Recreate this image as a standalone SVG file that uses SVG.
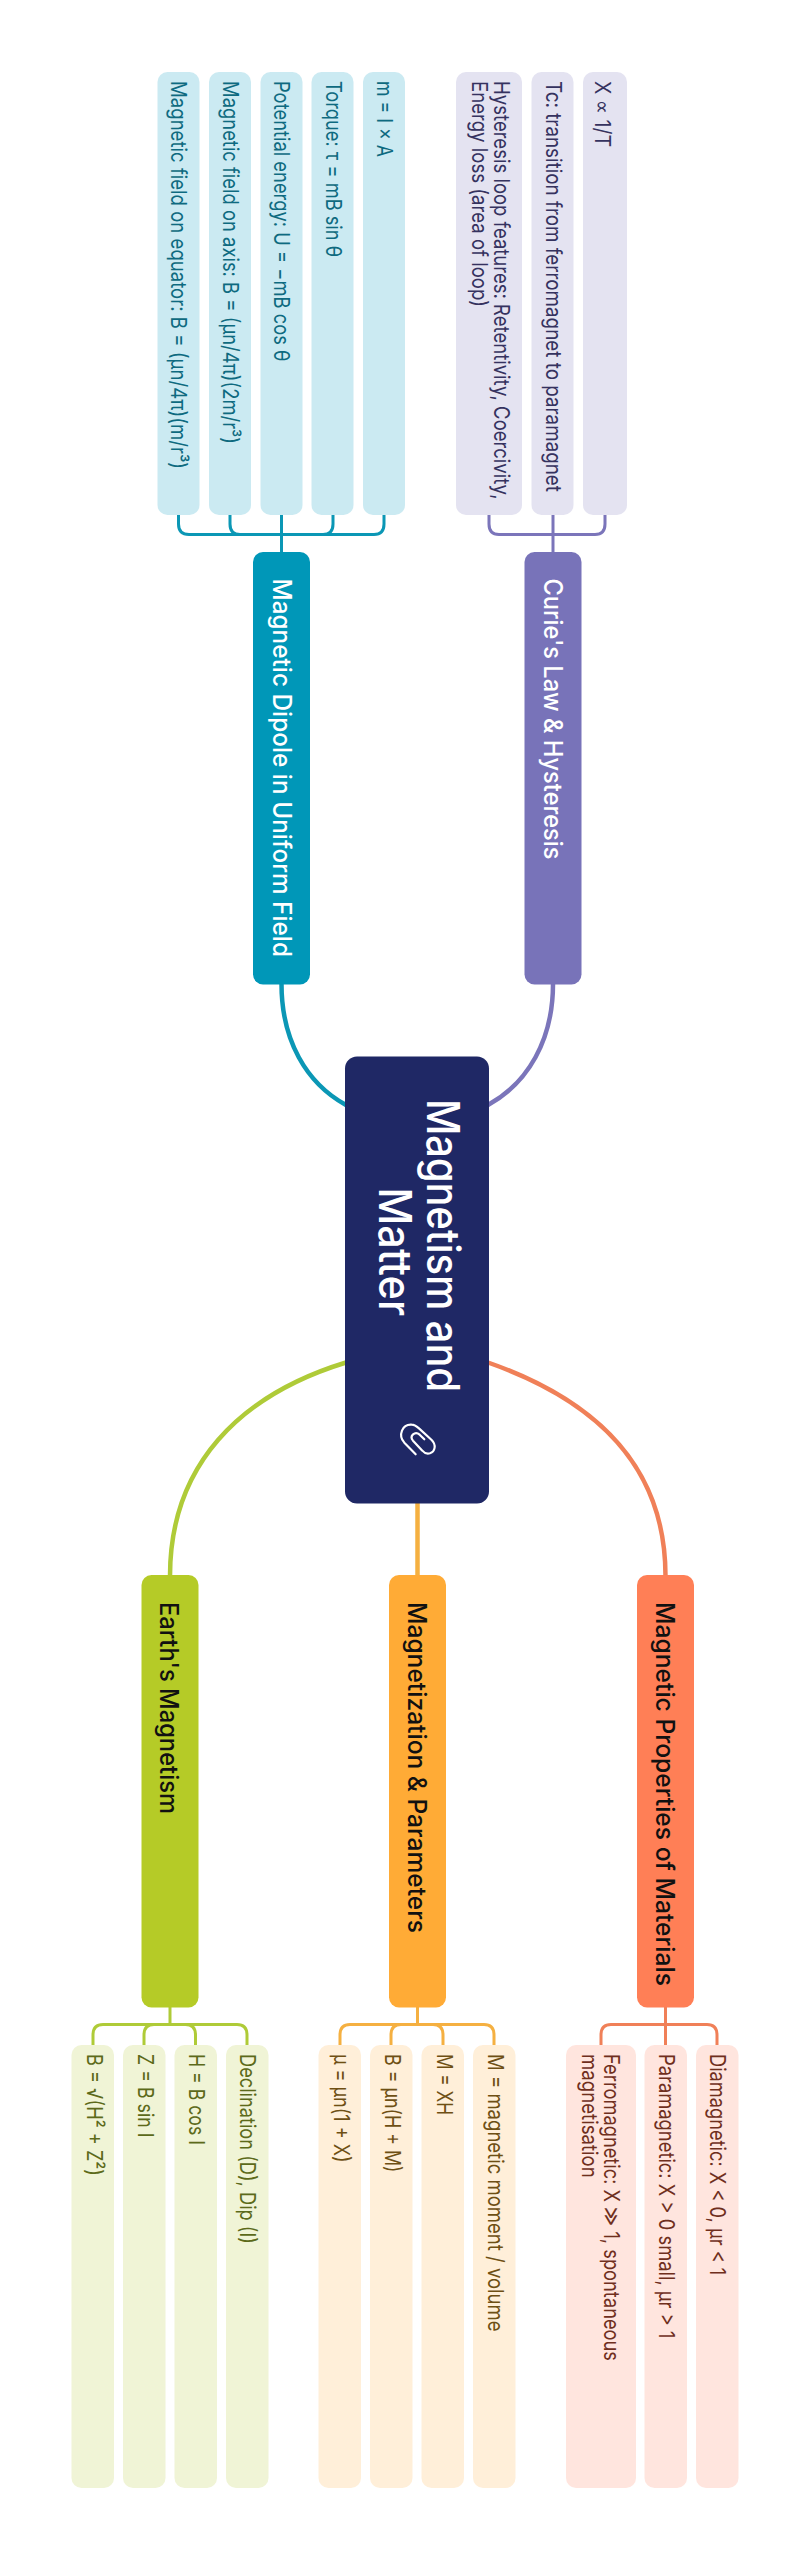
<svg xmlns="http://www.w3.org/2000/svg" width="810" height="2560" viewBox="0 0 810 2560">
<style>
text{font-family:"Inter","Liberation Sans",sans-serif}
.leaf{font-size:22px}
.hub{font-size:25px;font-weight:500}
.root{font-size:45px;font-weight:500;fill:#fff}
.c{fill:none;stroke-linecap:butt}
.m{stroke-width:4.5}
.b{stroke-width:3}
.tl{fill:#cbeaf2}.tt{fill:#0e6a80}
.pl{fill:#e4e3f1}.pt{fill:#35325f}
.gl{fill:#f0f4d6}.gt{fill:#5c6a1a}
.ol{fill:#ffefd9}.ot{fill:#6e4f14}
.rl{fill:#ffe5de}.rt{fill:#6f2f1d}
</style>
<rect width="810" height="2560" fill="#fff"/>
<g id="connectors">
<path class="c m" stroke="#0b97b5" d="M281.5 984 C281.5 1040 306 1083 346 1105"/>
<path class="c m" stroke="#7b75ba" d="M553 984 C553 1040 528 1083 488 1105"/>
<path class="c m" stroke="#afcb38" d="M346 1362.5 C240 1395 170 1465 170 1576"/>
<path class="c m" stroke="#f5b041" d="M417.5 1503 V1576"/>
<path class="c m" stroke="#f08058" d="M488 1362.5 C595 1400 665.5 1465 665.5 1576"/>
<g class="c b" stroke="#0b97b5">
<path d="M281.5 553 V514"/>
<path d="M178.5 514 V524 Q178.5 534.5 189 534.5 H374 Q384 534.5 384 524 V514"/>
<path d="M230 514 V524 Q230 534.5 240 534.5"/>
<path d="M333 514 V524 Q333 534.5 323 534.5"/>
</g>
<g class="c b" stroke="#7b75ba">
<path d="M553 553 V514"/>
<path d="M489 514 V524 Q489 534.5 499 534.5 H595 Q605 534.5 605 524 V514"/>
</g>
<g class="c b" stroke="#afcb38">
<path d="M170 2006 V2024.5"/>
<path d="M93 2046 V2035 Q93 2024.5 103 2024.5 H237 Q247 2024.5 247 2035 V2046"/>
<path d="M144 2046 V2035 Q144 2024.5 154 2024.5"/>
<path d="M195.5 2046 V2035 Q195.5 2024.5 185.5 2024.5"/>
</g>
<g class="c b" stroke="#f5b041">
<path d="M417.5 2006 V2024.5"/>
<path d="M340 2046 V2035 Q340 2024.5 350 2024.5 H484 Q494 2024.5 494 2035 V2046"/>
<path d="M391 2046 V2035 Q391 2024.5 401 2024.5"/>
<path d="M443 2046 V2035 Q443 2024.5 433 2024.5"/>
</g>
<g class="c b" stroke="#f08058">
<path d="M665.5 2006 V2046"/>
<path d="M601 2046 V2035 Q601 2024.5 611 2024.5 H707 Q717 2024.5 717 2035 V2046"/>
</g>
</g>
<g id="root">
<rect x="345" y="1056.5" width="144" height="447" rx="12" fill="#1f2865"/>
<text class="root" transform="translate(427 1099) rotate(90)" textLength="293" lengthAdjust="spacingAndGlyphs">Magnetism and</text>
<text class="root" transform="translate(378.5 1187.5) rotate(90)" textLength="128.5" lengthAdjust="spacingAndGlyphs">Matter</text>
<path transform="translate(385 1410) scale(.3333)" fill="none" stroke="#fff" stroke-width="6.5" stroke-linecap="round" stroke-linejoin="round" d="M92 133 L58 98 C38 75 52 42 80 44 C88 44 96 50 102 55 L140 90 C155 105 150 125 135 130 C125 133 117 128 112 122 L84 92 C72 78 90 62 104 74 L118 88"/>
</g>
<g id="hub-dipole">
<rect x="253" y="552" width="57" height="432.5" rx="10" fill="#0097b8"/>
<text class="hub" fill="#fff" transform="translate(272.5 578.5) rotate(90)" textLength="378.5" lengthAdjust="spacingAndGlyphs">Magnetic Dipole in Uniform Field</text>
</g>
<g id="hub-curie">
<rect x="524.5" y="552" width="57" height="432.5" rx="10" fill="#7873b9"/>
<text class="hub" fill="#fff" transform="translate(543.5 578.5) rotate(90)" textLength="281" lengthAdjust="spacingAndGlyphs">Curie's Law &amp; Hysteresis</text>
</g>
<g id="hub-earth">
<rect x="141.5" y="1575" width="57" height="432.5" rx="10" fill="#b5cb27"/>
<text class="hub" fill="#111" transform="translate(160 1602) rotate(90)" textLength="212" lengthAdjust="spacingAndGlyphs">Earth's Magnetism</text>
</g>
<g id="hub-magnetization">
<rect x="389" y="1575" width="57" height="432.5" rx="10" fill="#ffab36"/>
<text class="hub" fill="#111" transform="translate(408 1602) rotate(90)" textLength="331" lengthAdjust="spacingAndGlyphs">Magnetization &amp; Parameters</text>
</g>
<g id="hub-properties">
<rect x="637" y="1575" width="57" height="432.5" rx="10" fill="#ff7f56"/>
<text class="hub" fill="#111" transform="translate(656 1602) rotate(90)" textLength="384" lengthAdjust="spacingAndGlyphs">Magnetic Properties of Materials</text>
</g>
<g id="leaf-equator"><rect class="tl" x="157.5" y="72" width="42" height="443" rx="10"/><text class="leaf tt" transform="translate(171 81) rotate(90)" textLength="388" lengthAdjust="spacingAndGlyphs">Magnetic field on equator: B = (μn/4π)(m/r³)</text></g>
<g id="leaf-axis"><rect class="tl" x="209" y="72" width="42" height="443" rx="10"/><text class="leaf tt" transform="translate(223 81) rotate(90)" textLength="363" lengthAdjust="spacingAndGlyphs">Magnetic field on axis: B = (μn/4π)(2m/r³)</text></g>
<g id="leaf-potential"><rect class="tl" x="260.5" y="72" width="42" height="443" rx="10"/><text class="leaf tt" transform="translate(274 81) rotate(90)" textLength="280.5" lengthAdjust="spacingAndGlyphs">Potential energy: U = −mB cos θ</text></g>
<g id="leaf-torque"><rect class="tl" x="311.5" y="72" width="42" height="443" rx="10"/><text class="leaf tt" transform="translate(325.5 81) rotate(90)" textLength="176" lengthAdjust="spacingAndGlyphs">Torque: τ = mB sin θ</text></g>
<g id="leaf-moment"><rect class="tl" x="363" y="72" width="42" height="443" rx="10"/><text class="leaf tt" transform="translate(377 81) rotate(90)" textLength="76" lengthAdjust="spacingAndGlyphs">m = I × A</text></g>
<g id="leaf-hysteresis"><rect class="pl" x="456" y="72" width="66" height="443" rx="10"/><text class="leaf pt" transform="translate(493.5 81) rotate(90)" textLength="418.5" lengthAdjust="spacingAndGlyphs">Hysteresis loop features: Retentivity, Coercivity,</text><text class="leaf pt" transform="translate(471.5 81) rotate(90)" textLength="226" lengthAdjust="spacingAndGlyphs">Energy loss (area of loop)</text></g>
<g id="leaf-tc"><rect class="pl" x="531.5" y="72" width="42" height="443" rx="10"/><text class="leaf pt" transform="translate(546 81) rotate(90)" textLength="411" lengthAdjust="spacingAndGlyphs">Tc: transition from ferromagnet to paramagnet</text></g>
<g id="leaf-curie"><rect class="pl" x="583" y="72" width="44" height="443" rx="10"/><text class="leaf pt" transform="translate(595 81) rotate(90)" textLength="66" lengthAdjust="spacingAndGlyphs">X ∝ 1/T</text></g>
<g id="leaf-b"><rect class="gl" x="71.5" y="2045" width="42.5" height="443" rx="10"/><text class="leaf gt" transform="translate(86.5 2054) rotate(90)" textLength="122" lengthAdjust="spacingAndGlyphs">B = √(H² + Z²)</text></g>
<g id="leaf-z"><rect class="gl" x="123" y="2045" width="42.5" height="443" rx="10"/><text class="leaf gt" transform="translate(137.5 2054) rotate(90)" textLength="83.5" lengthAdjust="spacingAndGlyphs">Z = B sin I</text></g>
<g id="leaf-h"><rect class="gl" x="174.5" y="2045" width="42.5" height="443" rx="10"/><text class="leaf gt" transform="translate(189 2054) rotate(90)" textLength="91" lengthAdjust="spacingAndGlyphs">H = B cos I</text></g>
<g id="leaf-decl"><rect class="gl" x="226" y="2045" width="42.5" height="443" rx="10"/><text class="leaf gt" transform="translate(240 2054) rotate(90)" textLength="190" lengthAdjust="spacingAndGlyphs">Declination (D), Dip (I)</text></g>
<g id="leaf-mu"><rect class="ol" x="318.5" y="2045" width="42.5" height="443" rx="10"/><text class="leaf ot" transform="translate(333.5 2054) rotate(90)" textLength="108.5" lengthAdjust="spacingAndGlyphs">μ = μn(1 + X)</text></g>
<g id="leaf-bmu"><rect class="ol" x="370" y="2045" width="42.5" height="443" rx="10"/><text class="leaf ot" transform="translate(385 2054) rotate(90)" textLength="118.5" lengthAdjust="spacingAndGlyphs">B = μn(H + M)</text></g>
<g id="leaf-mxh"><rect class="ol" x="421.5" y="2045" width="42.5" height="443" rx="10"/><text class="leaf ot" transform="translate(437 2054) rotate(90)" textLength="61" lengthAdjust="spacingAndGlyphs">M = XH</text></g>
<g id="leaf-mvol"><rect class="ol" x="473" y="2045" width="42.5" height="443" rx="10"/><text class="leaf ot" transform="translate(488 2054) rotate(90)" textLength="277.5" lengthAdjust="spacingAndGlyphs">M = magnetic moment / volume</text></g>
<g id="leaf-ferro"><rect class="rl" x="566" y="2045" width="70" height="443" rx="10"/><text class="leaf rt" transform="translate(604 2054) rotate(90)" textLength="307" lengthAdjust="spacingAndGlyphs">Ferromagnetic: X ≫ 1, spontaneous</text><text class="leaf rt" transform="translate(582 2054) rotate(90)" textLength="123.7" lengthAdjust="spacingAndGlyphs">magnetisation</text></g>
<g id="leaf-para"><rect class="rl" x="644.5" y="2045" width="42.5" height="443" rx="10"/><text class="leaf rt" transform="translate(659 2054) rotate(90)" textLength="284.4" lengthAdjust="spacingAndGlyphs">Paramagnetic: X &gt; 0 small, μr &gt; 1</text></g>
<g id="leaf-dia"><rect class="rl" x="696" y="2045" width="42.5" height="443" rx="10"/><text class="leaf rt" transform="translate(710 2054) rotate(90)" textLength="221.3" lengthAdjust="spacingAndGlyphs">Diamagnetic: X &lt; 0, μr &lt; 1</text></g>
</svg>
